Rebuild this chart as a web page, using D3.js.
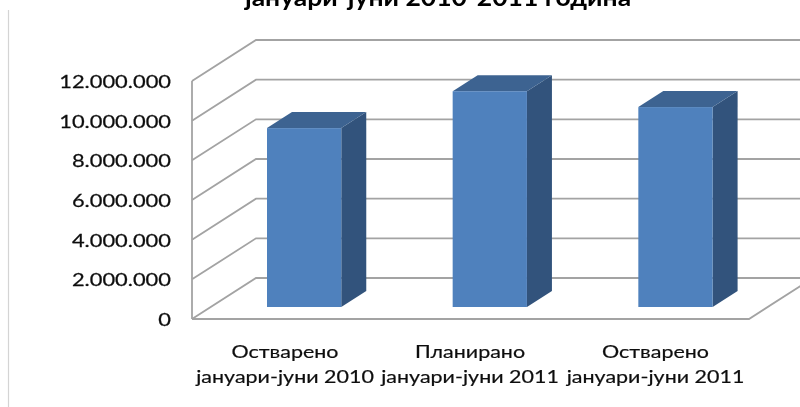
<!DOCTYPE html>
<html><head><meta charset="utf-8">
<script src="https://cdn.jsdelivr.net/npm/d3@7"></script>
<style>html,body{margin:0;padding:0;background:#fff;overflow:hidden}svg{display:block}</style>
</head><body><svg id="c" width="800" height="407"></svg>
<script>
const titleText = "јануари-јуни 2010-2011 година";
const categories = ["Остварено\nјануари-јуни 2010", "Планирано\nјануари-јуни 2011", "Остварено\nјануари-јуни 2011"];
const values = [9020000, 10880000, 10080000];
const tickValues = [0, 2000000, 4000000, 6000000, 8000000, 10000000, 12000000];

const root = d3.select("#c");
root.append("defs").append("filter").attr("id", "soft")
  .attr("filterUnits", "userSpaceOnUse").attr("x", 0).attr("y", 0).attr("width", 800).attr("height", 407)
  .append("feGaussianBlur").attr("stdDeviation", 0.45);
const svg = root.append("g").attr("filter", "url(#soft)");

const y = d3.scaleLinear().domain([0, 12000000]).range([319, 81]);
const x = d3.scaleBand().domain(categories).range([192, 749]).paddingInner(0.6).paddingOuter(0.3).align(0.5);
const fmt = v => d3.format(",")(v).replace(/,/g, ".");
const depth = {dx: 64, dy: -41};
const barDepth = {dx: 25, dy: -16};
const barShift = {dx: 19.3, dy: -12};   // bars stand behind the front edge of the floor
const gridColor = "#a3a3a3";
const stretch = 1.25;

svg.append("line").attr("x1", 8.5).attr("x2", 8.5).attr("y1", 10).attr("y2", 407)
  .attr("stroke", "#d4d4d4").attr("stroke-width", 1.2);

const walls = svg.append("g").attr("fill", "none").attr("stroke", gridColor).attr("stroke-width", 1.8);
tickValues.forEach(t => {
  walls.append("path").attr("d", d3.line()([
    [192, y(t)], [192 + depth.dx, y(t) + depth.dy], [800, y(t) + depth.dy]
  ]));
});
walls.append("path").attr("d", d3.line()([
  [192, y(0)], [749, y(0)], [749 + depth.dx, y(0) + depth.dy]
]));
walls.append("line").attr("x1", 192).attr("x2", 192).attr("y1", y(0)).attr("y2", y(12000000));

const bars = svg.append("g").selectAll("g").data(categories).join("g");
bars.each(function(c, i) {
  const g = d3.select(this);
  const x0 = x(c) + barShift.dx, x1 = x0 + x.bandwidth();
  const yb = y(0) + barShift.dy, yt = y(values[i]) + barShift.dy;
  const d = barDepth;
  g.append("path").attr("fill", "#32537b").attr("d", d3.line()([
    [x1, yb], [x1 + d.dx, yb + d.dy], [x1 + d.dx, yt + d.dy], [x1, yt]
  ]));
  g.append("path").attr("fill", "#3c6391").attr("d", d3.line()([
    [x0, yt], [x0 + d.dx, yt + d.dy], [x1 + d.dx, yt + d.dy], [x1, yt]
  ]));
  g.append("rect").attr("x", x0).attr("y", yt).attr("width", x.bandwidth()).attr("height", yb - yt)
    .attr("fill", "#4f81bd");
});

const axis = d3.axisLeft(y).tickValues(tickValues).tickFormat(fmt).tickSize(0).tickPadding(0);
const ag = svg.append("g").attr("transform", "translate(171,1)").call(axis);
ag.select(".domain").remove();
ag.selectAll("text").attr("x", 0).attr("font-family", "Lato").attr("font-size", 17.5).attr("fill", "#111")
  .attr("stroke", "#111").attr("stroke-width", 0.25).attr("transform", `scale(${stretch},1)`);

const cx = [285, 470, 655.5];
const lab = svg.append("g").attr("font-family", "Lato").attr("font-size", 17).attr("fill", "#111")
  .attr("stroke", "#111").attr("stroke-width", 0.2).attr("text-anchor", "middle");
categories.forEach((c, i) => {
  c.split("\n").forEach((line, j) => {
    lab.append("text").attr("transform", `translate(${cx[i]},${358 + j * 25}) scale(${stretch * 1.01},1)`).text(line);
  });
});

svg.append("text").attr("transform", "translate(438,6) scale(1.105,1)").attr("text-anchor", "middle")
  .attr("font-family", "Lato").attr("font-weight", 700).attr("font-size", 24).attr("fill", "#000").text(titleText);
</script></body></html>
